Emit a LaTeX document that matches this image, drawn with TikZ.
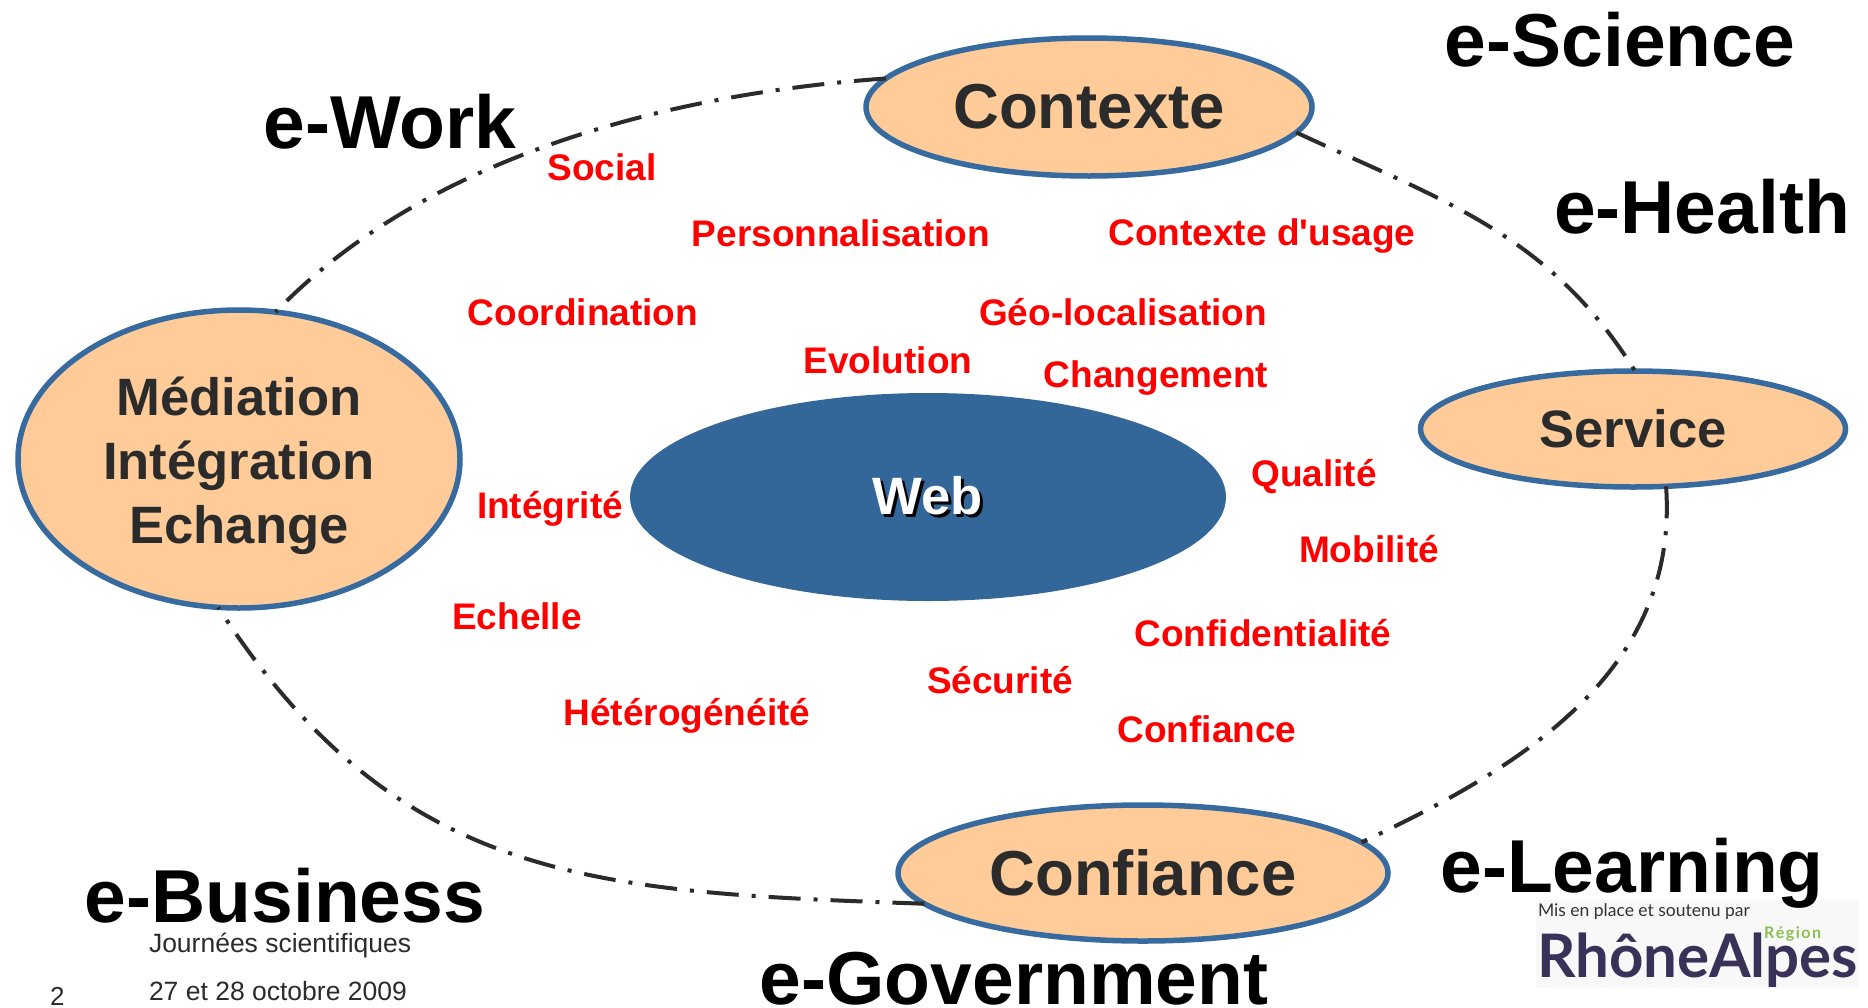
\documentclass[tikz,border=0pt]{standalone}
\usepackage{fontspec}
\setmainfont{Liberation Sans}
\newfontfamily\logofont{Lato}
\usetikzlibrary{shapes.geometric}
\definecolor{ringblue}{HTML}{376A9E}
\definecolor{webblue}{HTML}{336699}
\definecolor{peach}{HTML}{FFCC99}
\definecolor{darktext}{HTML}{2B2B2B}
\definecolor{logopurple}{HTML}{3A3159}
\definecolor{logogreen}{HTML}{8CBF4F}
\definecolor{logoback}{HTML}{F8F8F8}
\newcommand{\sizedfont}[1]{\fontsize{#1}{#1}\selectfont}
\newcommand{\dropshadow}[1]{\rlap{\kern2.5pt\raisebox{-2.5pt}{\textcolor{black}{#1}}}#1}

\begin{document}
\begin{tikzpicture}[x=1pt, y=-1pt,
    every node/.style={inner sep=0pt, outer sep=0pt},
    theme/.style={ellipse, draw=ringblue, line width=5.5pt, fill=peach, text=darktext, align=center},
    sector/.style={font=\sizedfont{75}\bfseries, text=black},
    keyword/.style={font=\sizedfont{37}\bfseries, text=red},
    footer/.style={font=\sizedfont{26.5}, text=darktext, anchor=west},
    link/.style={line width=4pt, draw=darktext, dash pattern=on 32pt off 13pt on 4pt off 13pt}]

\useasboundingbox (0,0) rectangle (1868,1007);

% Logo
\node[fill=logoback, minimum width=323pt, minimum height=88pt, anchor=north west] (logobox) at (1536,900) {};
\node[anchor=west, font=\logofont\sizedfont{17.5}, text=black!80] (logotop) at (1538,912) {Mis en place et soutenu par};
\node[anchor=base west, font=\logofont\bfseries\sizedfont{60}, text=logopurple] (logoname) at (1537,977) {RhôneAlpes};
\node[anchor=west, font=\logofont\bfseries\sizedfont{16}, text=logogreen] (logoregion) at (1764,934) {R\kern1.5pt é\kern1.5pt g\kern1.5pt i\kern1.5pt o\kern1.5pt n};

% Ellipses
\node[ellipse, fill=webblue, minimum width=596pt, minimum height=208pt, font=\sizedfont{52.6}\bfseries, text=white] (web) at (928,497) {\dropshadow{Web}};
\node[theme, minimum width=446pt, minimum height=138pt, font=\sizedfont{63.5}\bfseries] (contexte) at (1089,107) {Contexte};
\node[theme, minimum width=442pt, minimum height=298pt, font=\fontsize{52.6}{64}\selectfont\bfseries] (mediation) at (239,459) {\rule{0pt}{52pt}Médiation\\Intégration\\Echange};
\node[theme, minimum width=425pt, minimum height=116pt, font=\sizedfont{52.6}\bfseries] (service) at (1633,429) {Service};
\node[theme, minimum width=490pt, minimum height=136pt, font=\sizedfont{63.5}\bfseries] (confiance) at (1143,873) {Confiance};

% Ring
\draw[link] (contexte.172) to[out=184, in=46, looseness=0.85] (mediation.76);
\draw[link] (contexte.-7) to[out=-25, in=122] (service.88);
\draw[link] (service.-60) to[out=-86, in=25] (confiance.8);
\draw[link] (confiance.188) to[out=178, in=-57, looseness=1.1] (mediation.262);

% Sectors
\node[sector] (science) at (1620,40) {e-Science};
\node[sector] (health) at (1702,207) {e-Health};
\node[sector] (work) at (390,122) {e-Work};
\node[sector] (business) at (285,896) {e-Business};
\node[sector] (government) at (1014,979) {e-Government};
\node[sector] (learning) at (1632,873) {e-Learning};

% Keywords
\node[keyword] (social) at (602,167) {Social};
\node[keyword] (perso) at (841,233) {Personnalisation};
\node[keyword] (usage) at (1262,236) {Contexte d\textquotesingle usage};
\node[keyword] (coord) at (583,312) {Coordination};
\node[keyword] (geo) at (1123,312) {Géo-localisation};
\node[keyword] (evolution) at (888,360) {Evolution};
\node[keyword] (changement) at (1156,378) {Changement};
\node[keyword] (qualite) at (1314,477) {Qualité};
\node[keyword] (integrite) at (550,509) {Intégrité};
\node[keyword] (mobilite) at (1369,549) {Mobilité};
\node[keyword] (echelle) at (517,616) {Echelle};
\node[keyword] (confidence) at (1263,633) {Confidentialité};
\node[keyword] (securite) at (1000,680) {Sécurité};
\node[keyword] (hetero) at (687,716) {Hétérogénéité};
\node[keyword] (trust) at (1207,729) {Confiance};

% Footer
\node[footer] (event) at (149,945) {Journées scientifiques};
\node[footer] (date) at (149,991) {27 et 28 octobre 2009};
\node[footer, font=\sizedfont{26}] (page) at (50,996) {2};

\end{tikzpicture}
\end{document}
